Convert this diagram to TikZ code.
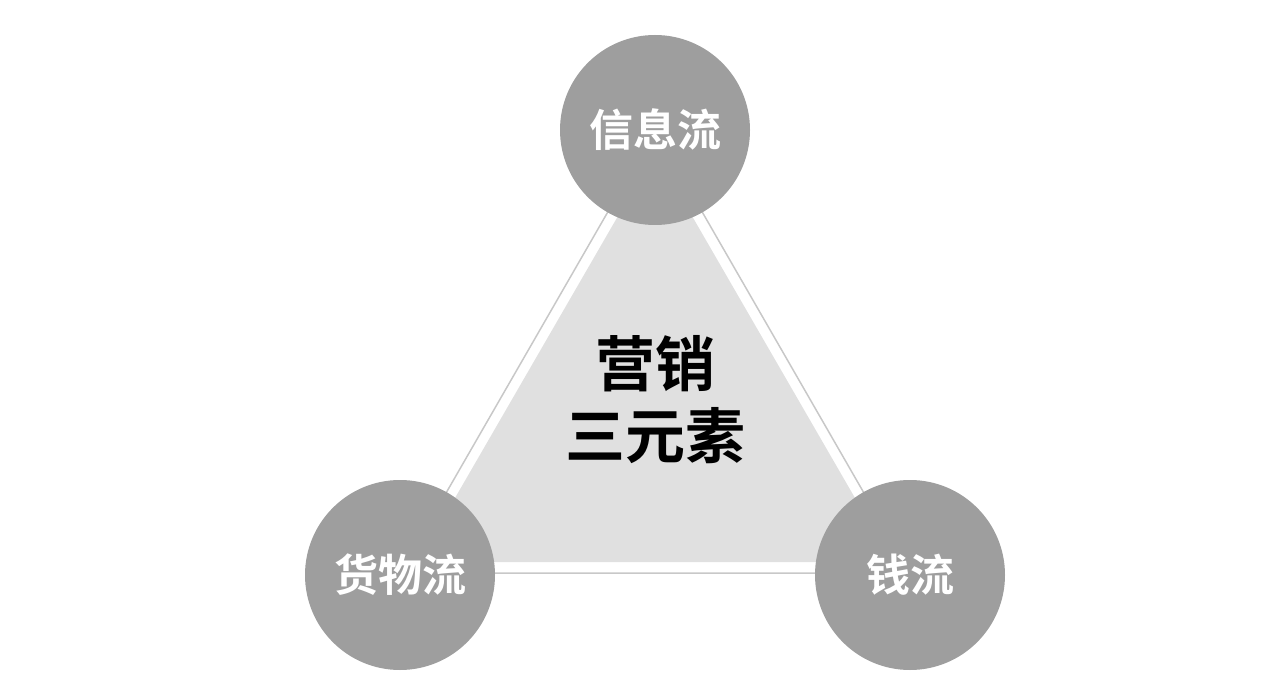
\documentclass[tikz,border=0pt]{standalone}
\usepackage{fontspec}
\newfontfamily\cjk{Noto Sans CJK SC Bold}
\definecolor{circ}{HTML}{9E9E9E}
\definecolor{tri}{HTML}{E0E0E0}
\definecolor{edge}{HTML}{C8C8C8}
\begin{document}
\begin{tikzpicture}[x=1pt,y=-1pt,
  ball/.style={circle,fill=circ,minimum size=190pt,inner sep=0pt,text=white,font=\cjk\fontsize{44}{50}\selectfont}]
\useasboundingbox (0,0) rectangle (1280,700);
\coordinate (A) at (655,130);
\coordinate (B) at (400,573);
\coordinate (C) at (910,573);
\draw[edge,line width=1.5pt,line join=miter] (A) -- (B) -- (C) -- cycle;
\fill[tri] (655,152) -- (418,562) -- (892,562) -- cycle;
\node[font=\cjk\fontsize{60}{72}\selectfont,align=center] (m) at (655,400) {营销\\三元素};
\node[ball] (t) at (A) {信息流};
\node[ball] (l) at (400,575) {货物流};
\node[ball] (r) at (910,575) {钱流};
\end{tikzpicture}
\end{document}
